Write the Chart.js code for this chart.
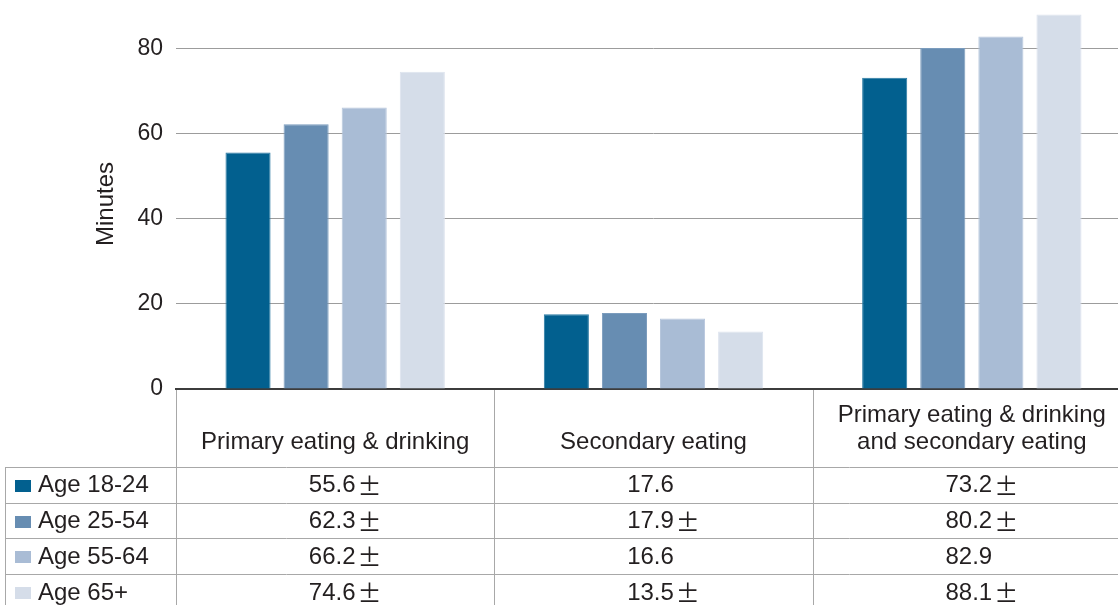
<!DOCTYPE html>
<html>
<head>
<meta charset="utf-8">
<script src="https://cdn.jsdelivr.net/npm/chart.js@4"></script>
<style>
  html, body { margin: 0; padding: 0; background: #fff; }
  #marco { width: 1118px; height: 605px; overflow: hidden; position: relative; }
  #wrap { width: 1131px; height: 605px; position: relative; }
</style>
</head>
<body>
<div id="marco"><div id="wrap"><canvas id="grafico"></canvas></div></div>
<script>
const categorias = ['Primary eating & drinking', 'Secondary eating', ['Primary eating & drinking', 'and secondary eating']];
const grupos = ['Age 18-24', 'Age 25-54', 'Age 55-64', 'Age 65+'];
const edad18a24 = [55.6, 17.6, 73.2];
const edad25a54 = [62.3, 17.9, 80.2];
const edad55a64 = [66.2, 16.6, 82.9];
const edad65mas = [74.6, 13.5, 88.1];
// which table cells carry the ± mark
const marca18a24 = [true, false, true];
const marca25a54 = [true, true, true];
const marca55a64 = [true, false, false];
const marca65mas = [true, true, true];
const ticksY = [0, 20, 40, 60, 80];
const colores = ['#02608f', '#678db2', '#a9bcd5', '#d5dde9'];
const bordes = ['#2a7aa3', '#7b9cbd', '#b6c6dc', '#dde3ee'];

const series = [edad18a24, edad25a54, edad55a64, edad65mas];
const marcas = [marca18a24, marca25a54, marca55a64, marca65mas];
const familia = '"Liberation Sans", Arial, sans-serif';
const fuente = '24px ' + familia;
const fuenteMas = '24px "Noto Sans CJK JP", ' + familia;
const colorTexto = '#231f20';

// data table under the bars, lined up with the x scale columns
const tablaDatos = {
  id: 'tablaDatos',
  afterDraw(chart) {
    const ctx = chart.ctx;
    const area = chart.chartArea;
    const n = categorias.length;
    const anchoCol = (area.right - area.left) / n;
    const arriba = area.bottom;
    const finCabecera = arriba + 78;
    const altoFila = 35.7;
    const izq = 5;

    ctx.save();
    ctx.strokeStyle = '#a8a8a8';
    ctx.lineWidth = 1;
    ctx.beginPath();
    for (let i = 0; i < n; i++) {
      const x = Math.round(area.left + i * anchoCol) + 0.5;
      ctx.moveTo(x, arriba + 1);
      ctx.lineTo(x, chart.height);
    }
    ctx.moveTo(izq + 0.5, finCabecera);
    ctx.lineTo(izq + 0.5, chart.height);
    for (let r = 0; r < grupos.length; r++) {
      const y = Math.round(finCabecera + r * altoFila) + 0.5;
      ctx.moveTo(izq, y);
      ctx.lineTo(area.right, y);
    }
    ctx.stroke();

    ctx.font = fuente;
    ctx.fillStyle = colorTexto;
    ctx.textAlign = 'center';
    ctx.textBaseline = 'alphabetic';
    categorias.forEach((cat, i) => {
      const cx = chart.scales.x.getPixelForTick(i);
      const lineas = Array.isArray(cat) ? cat : [cat];
      lineas.forEach((t, k) => {
        ctx.fillText(t, cx, finCabecera - 18 - (lineas.length - 1 - k) * 27);
      });
    });

    ctx.textBaseline = 'middle';
    grupos.forEach((g, r) => {
      const cy = finCabecera + r * altoFila + altoFila / 2 + 1;
      ctx.fillStyle = colores[r];
      ctx.fillRect(15, Math.round(cy - 6), 16, 12);
      ctx.fillStyle = colorTexto;
      ctx.font = fuente;
      ctx.textAlign = 'left';
      ctx.fillText(g, 38, cy);
      series[r].forEach((v, i) => {
        const cx = chart.scales.x.getPixelForTick(i) - 3;
        const txt = v.toFixed(1);
        ctx.font = fuente;
        const w = ctx.measureText(txt).width;
        ctx.textAlign = 'center';
        ctx.fillText(txt, cx, cy);
        if (marcas[r][i]) {
          ctx.font = fuenteMas;
          ctx.textAlign = 'left';
          ctx.fillText('±', cx + w / 2 + 2, cy);
        }
      });
    });

    // axis title
    ctx.font = fuente;
    ctx.translate(106, 204);
    ctx.rotate(-Math.PI / 2);
    ctx.textAlign = 'center';
    ctx.textBaseline = 'middle';
    ctx.fillText('Minutes', 0, 0);
    ctx.restore();
  }
};

const lienzo = document.getElementById('grafico');
new Chart(lienzo, {
  type: 'bar',
  data: {
    labels: categorias,
    datasets: grupos.map((g, i) => ({
      label: g,
      data: series[i],
      backgroundColor: colores[i],
      borderColor: bordes[i],
      borderWidth: 1,
      barPercentage: 0.776,
      categoryPercentage: 0.73
    }))
  },
  options: {
    responsive: true,
    maintainAspectRatio: false,
    animation: false,
    layout: { padding: 0 },
    plugins: {
      legend: { display: false },
      tooltip: { enabled: false }
    },
    scales: {
      x: {
        grid: { display: false },
        border: { display: true, color: '#3c3c3c', width: 2 },
        ticks: { display: false },
        afterFit: (s) => { s.height = 216; s.paddingLeft = 0; s.paddingRight = 0; }
      },
      y: {
        min: 0,
        max: 91.5,
        ticks: {
          stepSize: 20,
          padding: 13,
          color: colorTexto,
          font: { family: familia, size: 23 }
        },
        afterBuildTicks: (s) => { s.ticks = ticksY.map(v => ({ value: v })); },
        grid: { color: '#9c9c9c', lineWidth: 1, drawTicks: false },
        border: { display: false },
        afterFit: (s) => { s.width = 176; s.paddingTop = 0; s.paddingBottom = 0; }
      }
    }
  },
  plugins: [tablaDatos]
});
</script>
</body>
</html>
